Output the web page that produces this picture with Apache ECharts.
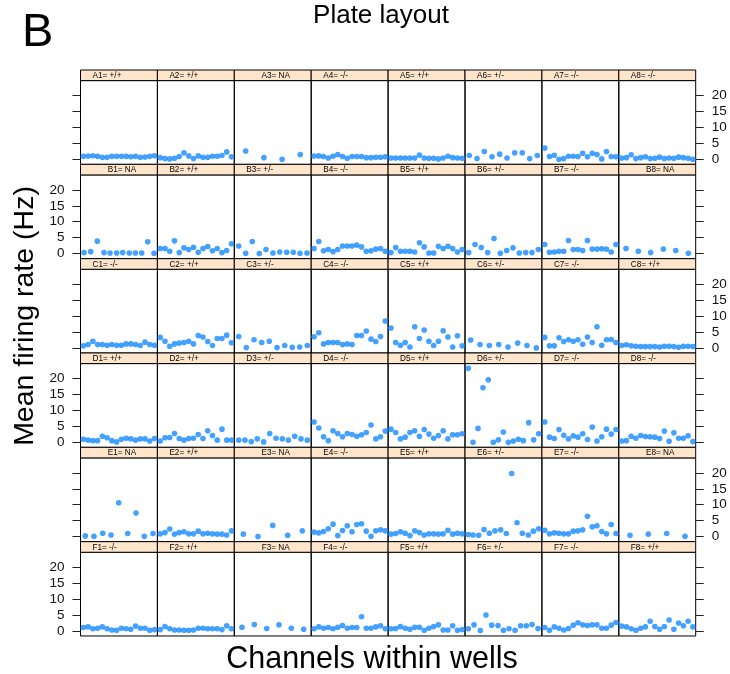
<!DOCTYPE html>
<html><head><meta charset="utf-8">
<script src="https://cdn.jsdelivr.net/npm/echarts@6/dist/echarts.min.js"></script>
<style>html,body{margin:0;padding:0;background:#fff}#c{width:730px;height:674px}</style>
</head><body><div id="c"></div>
<script>
// ---------- data ----------
const rows = ['A','B','C','D','E','F'];
const yTicks = [0, 5, 10, 15, 20];
const CH16 = [1,2,3,4,5,6,7,8,9,10,11,12,13,14,15,16];

const genotypeA = ['+/+','+/+','NA','-/-','+/+','+/-','-/-','-/-'];
const genotypeB = ['NA','+/+','+/-','-/-','+/+','+/-','-/-','NA'];
const genotypeC = ['-/-','+/+','+/-','-/-','+/+','+/-','-/-','+/+'];
const genotypeD = ['+/+','+/+','+/-','-/-','+/+','+/-','-/-','-/-'];
const genotypeE = ['NA','+/+','NA','-/-','+/+','+/-','-/-','NA'];
const genotypeF = ['-/-','+/+','NA','-/-','+/+','+/-','-/-','+/+'];

// mean firing rate (Hz) per channel, one list per well
const rateA = [
  [0.9,1.0,1.1,0.9,0.6,0.6,0.9,0.9,0.9,0.9,0.8,0.9,0.6,0.7,0.9,1.1],
  [0.5,0.2,0.1,0.3,0.85,2.0,1.05,0.2,1.05,0.6,0.6,0.95,0.95,1.15,2.3,0.75],
  [2.6,0.5,0.0,1.5],
  [1.0,1.05,0.85,0.4,0.95,1.5,0.85,0.3,0.85,0.85,0.85,0.5,0.5,0.6,0.6,0.75],
  [0.4,0.4,0.4,0.4,0.4,0.4,1.3,0.4,0.3,0.3,0.1,0.4,0.95,0.5,0.4,0.3],
  [1.15,0.2,2.45,0.75,1.6,0.4,2.0,2.0,0.2,1.15],
  [3.5,0.85,1.25,0.0,0.2,0.95,0.95,0.85,1.9,0.75,1.9,1.5,0.1,2.45,0.85,0.75],
  [0.4,0.5,1.4,0.2,0.5,0.75,0.2,0.3,0.65,0.2,0.4,0.3,0.65,0.5,0.3,0.0]
];
const rateB = [
  [0.3,0.6,3.9,0.3,0.2,0.2,0.3,0.2,0.2,0.2,3.7,0.1],
  [1.6,1.6,0.75,4.0,0.3,1.8,1.25,2.0,0.4,1.6,2.2,0.85,1.6,0.3,0.95,3.05],
  [2.4,0.1,3.8,0.0,1.25,0.2,0.5,0.4,0.4,0.1,0.2],
  [1.6,3.8,0.85,1.25,0.6,1.25,2.4,2.4,2.4,2.65,2.1,0.75,0.85,1.4,1.6,0.75],
  [0.3,1.9,0.75,0.75,0.75,0.5,3.4,2.1,0.2,0.2,2.3,1.6,2.3,1.6,0.5,1.25],
  [0.3,2.85,1.9,0.3,4.75,0.1,0.95,1.8,0.2,0.3,0.3,1.25],
  [2.85,0.4,0.5,0.75,0.75,4.1,1.25,1.25,0.95,4.1,1.4,1.4,1.5,1.4,0.5,2.85],
  [1.6,0.75,0.3,1.4,0.95,0.1]
];
const rateC = [
  [0.65,1.05,2.1,1.05,1.05,0.85,1.05,0.85,0.85,1.25,1.25,1.05,0.75,1.8,1.05,0.85],
  [3.3,2.1,0.5,1.25,1.5,1.7,2.1,1.25,3.9,3.4,2.0,0.75,2.95,2.95,4.0,1.6],
  [3.6,0.1,2.55,1.7,2.1,0.1,0.75,0.2,0.3,0.75],
  [3.5,4.75,1.25,1.7,1.7,1.7,1.05,1.25,1.05,3.9,3.9,5.3,2.75,2.0,3.6,8.45],
  [6.25,1.7,0.85,1.7,0.3,6.65,2.95,5.6,2.1,0.75,2.1,5.4,3.4,0.3,3.8,0.65],
  [2.45,1.05,0.75,1.05,0.3,1.5,0.75,0.0],
  [3.3,0.65,0.65,3.2,2.0,2.55,2.1,2.55,1.15,3.4,1.7,6.65,0.85,2.55,2.65,1.7],
  [0.75,0.95,0.65,0.5,0.4,0.4,0.4,0.4,0.3,0.5,0.5,0.4,0.2,0.5,0.5,0.4]
];
const rateD = [
  [0.95,0.65,0.5,0.5,1.9,1.4,0.5,0.1,0.95,1.25,1.05,0.65,1.05,1.05,0.4,1.15],
  [0.4,1.4,1.5,2.75,1.15,0.65,1.15,1.25,2.45,1.15,3.6,2.1,0.65,4.1,0.65,0.65],
  [0.65,0.65,0.2,1.05,0.1,2.75,1.25,1.05,0.65,1.9,1.05,0.65],
  [6.35,4.45,1.7,0.5,3.6,2.75,1.7,2.75,2.45,1.9,2.35,3.05,5.4,1.05,1.7,3.5],
  [4.1,3.05,1.05,1.6,3.05,3.6,1.9,4.0,2.55,1.25,2.1,3.6,1.05,2.35,2.35,2.65],
  [23.2,0.0,4.35,17.1,19.6,0.0,0.75,3.2,0.0,0.4,0.95,0.5,6.15,0.75,2.65],
  [6.35,1.6,1.15,4.0,2.2,1.05,2.0,1.6,2.65,0.85,4.75,0.4,1.7,4.1,2.55,4.0],
  [0.4,0.5,1.9,1.25,2.1,1.8,1.7,1.6,1.15,3.5,0.3,2.95,1.25,1.25,2.0,0.2]
];
const rateE = [
  [0.2,0.1,1.05,0.5,10.6,0.95,7.4,0.1,0.95],
  [0.85,1.25,2.35,0.75,1.25,1.5,0.85,0.85,1.7,0.85,1.05,0.85,0.75,0.75,0.5,1.8],
  [0.75,0.0,3.5,0.4,1.8],
  [1.4,1.15,1.6,2.45,3.9,0.3,1.9,3.4,1.5,3.8,4.0,1.7,0.1,1.8,2.1,1.8],
  [0.75,0.95,1.5,1.05,0.3,1.8,1.25,0.5,0.85,0.85,0.75,0.85,2.0,0.75,1.05,0.85],
  [0.65,0.5,0.4,2.2,1.05,1.8,2.1,0.95,19.8,4.35,1.05,0.5,1.7,2.45],
  [2.0,0.85,1.15,1.05,0.85,0.85,1.7,1.8,2.1,6.35,3.05,3.4,1.6,0.85,3.8,0.95],
  [0.4,0.75,0.95,0.1]
];
const rateF = [
  [1.05,1.25,0.65,0.85,1.25,0.65,0.3,0.2,0.85,0.65,0.5,1.5,0.85,0.85,0.2,0.4],
  [0.4,1.4,0.65,0.3,0.3,0.2,0.2,0.3,0.85,0.85,0.65,0.65,0.65,0.4,1.6,0.65],
  [1.15,2.0,0.75,1.9,0.85,0.5],
  [0.65,1.25,0.85,1.05,0.65,1.15,1.7,0.85,1.05,1.05,4.45,0.85,0.85,1.25,1.6,0.65],
  [0.65,0.75,1.35,0.85,0.5,1.15,1.15,0.2,0.85,1.35,1.9,0.3,0.3,1.6,0.2,0.4],
  [0.65,1.9,0.1,5.0,1.8,1.7,0.2,0.65,0.2,1.6,1.6,2.0,0.75],
  [1.05,0.2,1.25,0.85,0.3,0.75,1.8,2.55,1.9,1.7,1.9,1.9,0.85,0.85,1.8,2.65],
  [1.5,1.25,0.65,0.2,0.85,1.25,3.05,1.4,0.5,1.4,3.4,0.5,2.45,1.6,3.05,1.25]
];

// channel positions for wells with fewer recorded channels (null = channels 1..16)
const chanA = [null,null,[2.8,6.64,10.47,14.3],null,null,[1.3,2.93,4.47,6.1,7.7,9.25,10.87,12.47,14.03,15.63],null,null];
const chanB = [[1.14,2.55,3.94,5.35,6.62,8.03,9.29,10.68,11.95,13.29,14.56,15.89],null,[1.33,2.8,4.19,5.67,7.08,8.55,9.97,11.44,12.83,14.24,15.72],null,null,[1.18,2.51,3.83,5.18,6.51,7.84,9.19,10.51,11.84,13.19,14.52,15.84],null,[1.92,4.51,7.12,9.78,12.39,15.04]];
const chanC = [null,null,[1.33,2.93,4.55,6.17,7.77,9.4,11.02,12.62,14.18,15.78],null,null,[1.6,3.56,5.52,7.5,9.46,11.5,13.46,15.42],null,null];
const chanD = [null,null,[1.33,2.65,3.98,5.25,6.59,7.86,9.19,10.51,11.78,13.13,14.45,15.78],null,null,[1.1,2.09,3.14,4.19,5.31,6.37,7.42,8.47,9.53,10.58,11.64,12.69,13.82,14.87,15.93],null,null];
const chanE = [[1.41,3.24,5.08,6.83,8.45,10.34,12.09,13.84,15.68],null,[2.3,5.39,8.49,11.65,14.73],null,null,[1.1,2.09,3.28,4.4,5.53,6.72,7.92,9.1,10.23,11.36,12.48,13.74,14.8,15.92],null,[2.76,6.62,10.49,14.35]];
const chanF = [null,null,[2.02,4.61,7.23,9.82,12.41,15.02],null,null,[1.1,2.3,3.63,4.82,6.02,7.35,8.48,9.67,10.94,12.13,13.32,14.52,15.78],null,null];

const genotypes = [genotypeA, genotypeB, genotypeC, genotypeD, genotypeE, genotypeF];
const rates = [rateA, rateB, rateC, rateD, rateE, rateF];
const chans = [chanA, chanB, chanC, chanD, chanE, chanF];

// ---------- layout ----------
const L = 80.5, PW = 76.9, T = 70, RH = 94.33, SH = 10.6;
const FONT = 'Liberation Sans, Arial, Helvetica, sans-serif';

const grids = [], xAxes = [], yAxes = [], series = [], graphics = [];
rows.forEach((rn, r) => {
  for (let c = 0; c < 8; c++) {
    const i = r * 8 + c;
    const left = L + c * PW, stripTop = T + r * RH;
    grids.push({ left: left, top: stripTop + SH, width: PW, height: RH - SH,
      show: true, borderColor: '#000', borderWidth: 1, backgroundColor: 'transparent' });
    xAxes.push({ type: 'value', gridIndex: i, min: 0.4, max: 16.6, show: false });
    const isLeft = c === 0, isRight = c === 7;
    const labelled = (isLeft && r % 2 === 1) || (isRight && r % 2 === 0);
    yAxes.push({ type: 'value', gridIndex: i, min: -1.6, max: 24.7,
      position: isRight ? 'right' : 'left',
      axisLine: { show: false }, splitLine: { show: false },
      axisTick: { show: isLeft || isRight, customValues: yTicks, length: 8, lineStyle: { color: '#222', width: 1 } },
      axisLabel: { show: labelled, customValues: yTicks, margin: 16, fontSize: 13.5, color: '#111', fontFamily: FONT } });
    const vals = rates[r][c];
    const xs = chans[r][c] || CH16;
    series.push({ type: 'scatter', xAxisIndex: i, yAxisIndex: i, symbol: 'circle', symbolSize: 5.6,
      itemStyle: { color: '#1589ff' }, silent: true,
      data: vals.map((v, k) => [xs[k], v]) });
    const g = genotypes[r][c];
    graphics.push({ type: 'rect', shape: { x: left, y: stripTop, width: PW, height: SH },
      style: { fill: '#ffe5cc', stroke: '#000', lineWidth: 1 }, z: 10 });
    const label = rn + (c + 1) + '= ' + g;
    const isNA = g === 'NA';
    graphics.push({ type: 'text', x: isNA ? left + PW / 2 + 3 : left + 12, y: stripTop + SH / 2 + 0.5, z: 11,
      style: { text: label, fontSize: 8.2, fontFamily: FONT, fill: '#000',
        align: isNA ? 'center' : 'left', textAlign: isNA ? 'center' : 'left',
        verticalAlign: 'middle', textVerticalAlign: 'middle' } });
  }
});

graphics.push({ type: 'text', x: 22, y: 33, style: { text: 'B', fontSize: 47, fontFamily: FONT, fill: '#000',
  align: 'left', textAlign: 'left', verticalAlign: 'middle', textVerticalAlign: 'middle' } });
graphics.push({ type: 'text', x: 381, y: 16, style: { text: 'Plate layout', fontSize: 26, fontFamily: FONT, fill: '#000',
  align: 'center', textAlign: 'center', verticalAlign: 'middle', textVerticalAlign: 'middle' } });
graphics.push({ type: 'text', x: 372, y: 660, style: { text: 'Channels within wells', fontSize: 30.5, fontFamily: FONT, fill: '#000',
  align: 'center', textAlign: 'center', verticalAlign: 'middle', textVerticalAlign: 'middle' } });
graphics.push({ type: 'text', x: 25, y: 316, rotation: Math.PI / 2, style: { text: 'Mean firing rate (Hz)', fontSize: 28.5, fontFamily: FONT, fill: '#000',
  align: 'center', textAlign: 'center', verticalAlign: 'middle', textVerticalAlign: 'middle' } });

const chart = echarts.init(document.getElementById('c'), null, { renderer: 'canvas' });
chart.setOption({
  animation: false,
  backgroundColor: '#fff',
  grid: grids, xAxis: xAxes, yAxis: yAxes, series: series,
  graphic: { elements: graphics }
});
</script></body></html>
